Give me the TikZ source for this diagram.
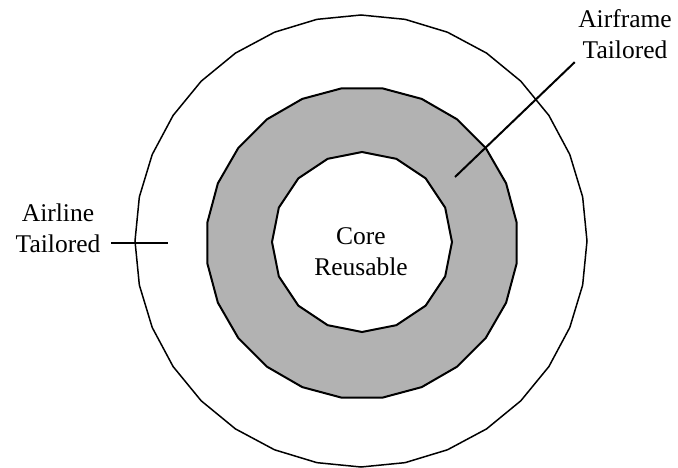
\documentclass[tikz,border=0pt]{standalone}
\usepackage{fontspec}
\setmainfont{Liberation Serif}
\usetikzlibrary{shapes.geometric}

\definecolor{ringgray}{gray}{0.70}

\begin{document}
\begin{tikzpicture}[x=1pt, y=-1pt,
  every node/.style={font=\fontsize{25.5}{31}\selectfont},
  ring/.style={regular polygon, draw, inner sep=0pt},
  leader/.style={line width=2pt}]

  \useasboundingbox (0,0) rectangle (678,468);

  % =========================
  % rings
  % =========================
  \node[ring, regular polygon sides=32, shape border rotate=5.625,
        minimum size=452pt, line width=1.5pt] (outer) at (361,241) {};
  \node[ring, regular polygon sides=24, fill=ringgray,
        minimum size=312pt, line width=2pt] (middle) at (362,243) {};
  \node[ring, regular polygon sides=16, shape border rotate=11.25, fill=white,
        minimum size=180pt, line width=2pt] (core) at (362,242) {};

  % =========================
  % labels
  % =========================
  \node[align=center] (coretext) at (361,252) {Core\\Reusable};

  \node[align=center, inner xsep=11pt] (airline) at (58,228) {Airline\\Tailored};
  \coordinate (airlinetip) at (168,243);
  \draw[leader] (airline.east |- airlinetip) -- (airlinetip);

  \node[align=center] (airframe) at (625,34) {Airframe\\Tailored};
  \coordinate (airframetip) at (455,177);
  \draw[leader] (airframe.south west) -- (airframetip);

\end{tikzpicture}
\end{document}
